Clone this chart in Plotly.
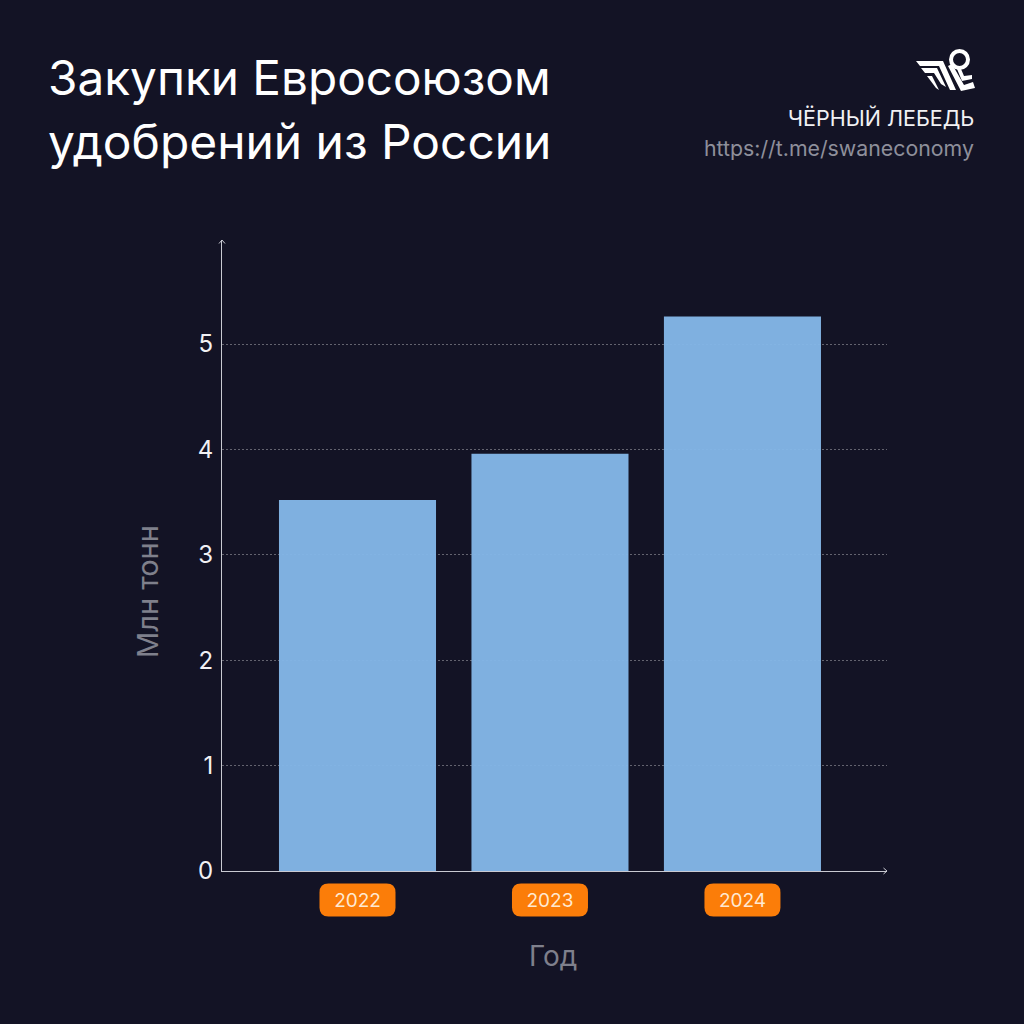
import plotly.graph_objects as go

years = ["2022", "2023", "2024"]
volumes = [3.52, 3.96, 5.26]
y_ticks = [0, 1, 2, 3, 4, 5]

BG = "#131325"
BAR = "#84B7E8"
ORANGE = "#FB7D09"
FONT = "Inter"
SIZE = 1024


def px_x(x):
    return x / SIZE


def px_y(y):
    return 1 - y / SIZE


def rounded_pill(w, h, r):
    # pill path in pixels around its anchor point
    x, y = w / 2, h / 2
    return (
        f"M {-x + r} {-y} L {x - r} {-y} Q {x} {-y} {x} {-y + r} "
        f"L {x} {y - r} Q {x} {y} {x - r} {y} L {-x + r} {y} "
        f"Q {-x} {y} {-x} {y - r} L {-x} {-y + r} Q {-x} {-y} {-x + r} {-y} Z"
    )


def polygon(points):
    # closed path from page pixel points
    coords = [f"{px_x(x)} {px_y(y)}" for x, y in points]
    return "M " + " L ".join(coords) + " Z"


fig = go.Figure()
fig.add_trace(
    go.Bar(
        x=years,
        y=volumes,
        width=0.816,
        marker=dict(color=BAR, line=dict(width=0)),
        opacity=0.96,
        hoverinfo="x+y",
    )
)

shapes = []
for idx, year in enumerate(years):
    shapes.append(
        dict(
            type="path",
            path=rounded_pill(76, 33, 9),
            xref="x",
            yref="paper",
            xsizemode="pixel",
            ysizemode="pixel",
            xanchor=idx,
            yanchor=px_y(900),
            fillcolor=ORANGE,
            line=dict(width=0),
            layer="below",
        )
    )

# axis arrow tips
shapes.append(
    dict(
        type="path",
        path="M -3 -3.5 L 0 0 L 3 -3.5",
        xref="paper",
        yref="paper",
        xsizemode="pixel",
        ysizemode="pixel",
        xanchor=px_x(222),
        yanchor=px_y(240),
        line=dict(color="#C9CAD2", width=1),
    )
)
shapes.append(
    dict(
        type="path",
        path="M -3.5 -3 L 0 0 L -3.5 3",
        xref="paper",
        yref="paper",
        xsizemode="pixel",
        ysizemode="pixel",
        xanchor=px_x(887),
        yanchor=px_y(871),
        line=dict(color="#C9CAD2", width=1),
    )
)

# swan logo, rough outline
logo_parts = [
    [(916, 61), (943, 61), (956, 90), (950, 90), (939, 66), (920, 66)],
    [(921, 68), (937, 68), (946, 87), (941, 84), (934, 73), (925, 73)],
    [(927, 76), (932, 76), (939, 90), (936, 88)],
    [(948, 66), (952, 64), (964, 85), (973, 82), (975, 88), (961, 91)],
    [(957, 69), (961, 69), (964, 76), (972, 75), (972, 79), (962, 81)],
]
for part in logo_parts:
    shapes.append(
        dict(
            type="path",
            path=polygon(part),
            xref="paper",
            yref="paper",
            fillcolor="white",
            line=dict(width=0),
        )
    )
shapes.append(
    dict(
        type="circle",
        xref="paper",
        yref="paper",
        x0=px_x(951),
        x1=px_x(968),
        y0=px_y(68),
        y1=px_y(51),
        line=dict(color="white", width=4),
    )
)

annotations = [
    dict(text="Закупки Евросоюзом", x=px_x(46), y=px_y(78), xanchor="left", font=dict(size=47.7, color="white")),
    dict(text="удобрений из России", x=px_x(46), y=px_y(142), xanchor="left", font=dict(size=47.9, color="white")),
    dict(text="ЧЁРНЫЙ ЛЕБЕДЬ", x=px_x(976), y=px_y(118), xanchor="right", font=dict(size=21.5, color="#F1F1F4")),
    dict(text="https://t.me/swaneconomy", x=px_x(976), y=px_y(148), xanchor="right", font=dict(size=21.3, color="#8E8F9B")),
    dict(text="Год", x=px_x(553), y=px_y(956), xanchor="center", font=dict(size=28, color="#7F808C")),
    dict(text="Млн тонн", x=px_x(147), y=px_y(592), xanchor="center", textangle=-90, font=dict(size=29, color="#7F808C")),
]
for note in annotations:
    note.update(xref="paper", yref="paper", yanchor="middle", showarrow=False)

fig.update_layout(
    width=SIZE,
    height=SIZE,
    margin=dict(l=0, r=0, t=0, b=0),
    paper_bgcolor=BG,
    plot_bgcolor=BG,
    font=dict(family=FONT, color="white"),
    showlegend=False,
    shapes=shapes,
    annotations=annotations,
    xaxis=dict(
        type="category",
        automargin=False,
        domain=[px_x(222), px_x(887)],
        range=[-0.704, 2.751],
        showgrid=False,
        showline=True,
        linecolor="#C9CAD2",
        linewidth=1,
        ticks="",
        tickfont=dict(size=19, color="#FFE9D2", family=FONT),
        ticklabelstandoff=12,
        zeroline=False,
    ),
    yaxis=dict(
        automargin=False,
        domain=[px_y(871), px_y(240)],
        range=[0, 5.987],
        tickvals=y_ticks,
        showgrid=True,
        gridcolor="#63636F",
        griddash="1.5px,2.5px",
        gridwidth=1,
        showline=True,
        linecolor="#C9CAD2",
        linewidth=1,
        ticks="",
        zeroline=False,
        tickfont=dict(size=24, color="#F1F1F4", family=FONT),
        ticklabelstandoff=3,
    ),
)

fig.write_html(
    "out.html",
    config=dict(displayModeBar=False),
    post_script="document.body.style.margin='0';",
)
